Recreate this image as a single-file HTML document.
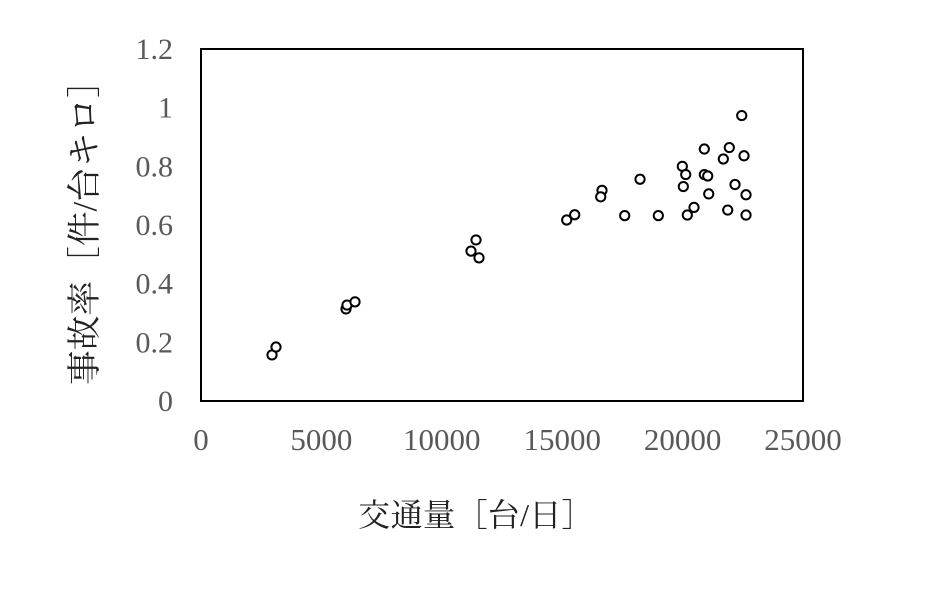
<!DOCTYPE html>
<html><head><meta charset="utf-8"><style>
body{margin:0;background:#fff;}
svg text{font-family:"Liberation Serif","Noto Serif CJK JP",serif;fill:#595959;}
</style></head><body>
<svg width="934" height="585" xmlns="http://www.w3.org/2000/svg">
<g id="g"></g>
</svg>
<script>
const xVals=[22455,20902,21940,21691,22551,19988,20130,20902,21043,18232,16653,16599,20030,22177,21085,22634,20474,21874,15187,15520,17596,18992,20196,22634,2949,3115,6022,6063,6396,11213,11421,11545];
const yVals=[0.973,0.859,0.864,0.825,0.836,0.800,0.772,0.772,0.767,0.756,0.718,0.696,0.731,0.738,0.706,0.703,0.660,0.651,0.617,0.635,0.632,0.632,0.634,0.634,0.157,0.184,0.314,0.327,0.338,0.511,0.549,0.488];
const xTicks=[0,5000,10000,15000,20000,25000];
const yTicks=[0,0.2,0.4,0.6,0.8,1,1.2];
const L=201,R=803,T=49,B=401;
const sx=v=>L+(v/25000)*(R-L), sy=v=>B-(v/1.2)*(B-T);
const g=document.getElementById('g'), NS='http://www.w3.org/2000/svg';
function mk(t,a){const e=document.createElementNS(NS,t);for(const k in a)e.setAttribute(k,a[k]);g.appendChild(e);return e;}
const box=mk('rect',{x:L,y:T,width:R-L,height:B-T,fill:'none',stroke:'#000','stroke-width':2});


yTicks.forEach(v=>{const t=mk('text',{x:173,y:sy(v)+10,'text-anchor':'end','font-size':30});t.textContent=String(v);

});
xTicks.forEach(v=>{const t=mk('text',{x:sx(v),y:450,'text-anchor':'middle','font-size':31});t.textContent=String(v);

});
xVals.forEach((x,i)=>{const c=mk('circle',{cx:sx(x),cy:sy(yVals[i]),r:4.6,fill:'#fff',stroke:'#000','stroke-width':2});

});
const xt=mk('text',{x:358,y:526,'font-size':32,textLength:236,lengthAdjust:'spacingAndGlyphs',style:'fill:#222'});xt.textContent='交通量［台/日］';


const yt=mk('text',{x:0,y:0,'font-size':34,textLength:322,lengthAdjust:'spacingAndGlyphs',style:'fill:#222',transform:'translate(96,385) rotate(-90)'});yt.textContent='事故率［件/台キロ］';


</script>
</body></html>
